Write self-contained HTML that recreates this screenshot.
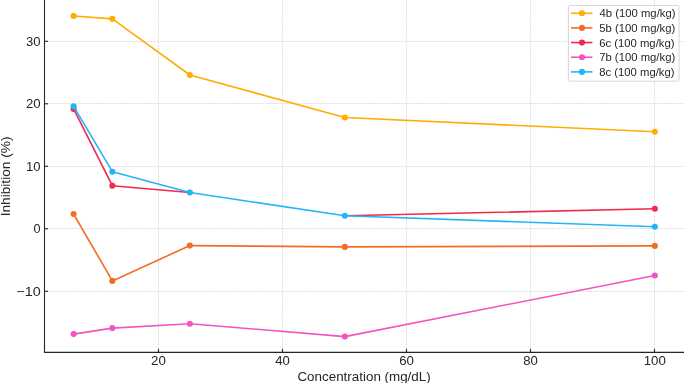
<!DOCTYPE html>
<html><head><meta charset="utf-8"><style>
html,body{margin:0;padding:0;background:#fff;width:685px;height:383px;overflow:hidden}
svg{display:block;will-change:transform}
text{font-family:"Liberation Sans",sans-serif;fill:#262626}
</style></head><body>
<svg width="685" height="383" viewBox="0 0 685 383">
<rect width="685" height="383" fill="#fff"/>
<g stroke="#e2e2e2" stroke-width="1.0" fill="none">
<line x1="44.5" y1="41.5" x2="684" y2="41.5" stroke-dasharray="2.114,0.906" stroke-dashoffset="2.988"/>
<line x1="44.5" y1="103.5" x2="684" y2="103.5" stroke-dasharray="2.114,0.906" stroke-dashoffset="2.988"/>
<line x1="44.5" y1="166.5" x2="684" y2="166.5" stroke-dasharray="2.114,0.906" stroke-dashoffset="2.988"/>
<line x1="44.5" y1="228.5" x2="684" y2="228.5" stroke-dasharray="2.114,0.906" stroke-dashoffset="2.988"/>
<line x1="44.5" y1="291.5" x2="684" y2="291.5" stroke-dasharray="2.114,0.906" stroke-dashoffset="2.988"/>
<line x1="158.5" y1="352.4" x2="158.5" y2="0" stroke-dasharray="2.134,0.915" stroke-dashoffset="2.765"/>
<line x1="282.5" y1="352.4" x2="282.5" y2="0" stroke-dasharray="2.134,0.915" stroke-dashoffset="2.765"/>
<line x1="406.5" y1="352.4" x2="406.5" y2="0" stroke-dasharray="2.134,0.915" stroke-dashoffset="2.765"/>
<line x1="530.5" y1="352.4" x2="530.5" y2="0" stroke-dasharray="2.134,0.915" stroke-dashoffset="2.765"/>
<line x1="654.5" y1="352.4" x2="654.5" y2="0" stroke-dasharray="2.134,0.915" stroke-dashoffset="2.765"/>
</g>
<polyline fill="none" stroke="#FFAD00" stroke-width="1.6" stroke-linejoin="round" stroke-linecap="round" points="73.6,16.0 112.35,18.85 189.85,75.0 344.85,117.5 654.85,131.75"/>
<circle cx="73.6" cy="16.0" r="3.05" fill="#FFAD00"/><circle cx="112.35" cy="18.85" r="3.05" fill="#FFAD00"/><circle cx="189.85" cy="75.0" r="3.05" fill="#FFAD00"/><circle cx="344.85" cy="117.5" r="3.05" fill="#FFAD00"/><circle cx="654.85" cy="131.75" r="3.05" fill="#FFAD00"/>
<polyline fill="none" stroke="#F26C23" stroke-width="1.6" stroke-linejoin="round" stroke-linecap="round" points="73.6,214.0 112.35,280.9 189.85,245.6 344.85,246.9 654.85,245.9"/>
<circle cx="73.6" cy="214.0" r="3.05" fill="#F26C23"/><circle cx="112.35" cy="280.9" r="3.05" fill="#F26C23"/><circle cx="189.85" cy="245.6" r="3.05" fill="#F26C23"/><circle cx="344.85" cy="246.9" r="3.05" fill="#F26C23"/><circle cx="654.85" cy="245.9" r="3.05" fill="#F26C23"/>
<polyline fill="none" stroke="#F02A50" stroke-width="1.6" stroke-linejoin="round" stroke-linecap="round" points="73.6,108.9 112.35,185.7 189.85,192.5"/>
<polyline fill="none" stroke="#F02A50" stroke-width="1.6" stroke-linejoin="round" stroke-linecap="round" points="344.85,215.8 654.85,208.8"/>
<circle cx="73.6" cy="108.9" r="3.05" fill="#F02A50"/><circle cx="112.35" cy="185.7" r="3.05" fill="#F02A50"/><circle cx="654.85" cy="208.8" r="3.05" fill="#F02A50"/>
<polyline fill="none" stroke="#F552C2" stroke-width="1.6" stroke-linejoin="round" stroke-linecap="round" points="73.6,334.1 112.35,328.1 189.85,323.75 344.85,336.6 654.85,275.5"/>
<circle cx="73.6" cy="334.1" r="3.05" fill="#F552C2"/><circle cx="112.35" cy="328.1" r="3.05" fill="#F552C2"/><circle cx="189.85" cy="323.75" r="3.05" fill="#F552C2"/><circle cx="344.85" cy="336.6" r="3.05" fill="#F552C2"/><circle cx="654.85" cy="275.5" r="3.05" fill="#F552C2"/>
<polyline fill="none" stroke="#22B5F8" stroke-width="1.6" stroke-linejoin="round" stroke-linecap="round" points="73.6,106.35 112.35,171.7 189.85,192.5 344.85,215.8 654.85,226.7"/>
<circle cx="73.6" cy="106.35" r="3.05" fill="#22B5F8"/><circle cx="112.35" cy="171.7" r="3.05" fill="#22B5F8"/><circle cx="189.85" cy="192.5" r="3.05" fill="#22B5F8"/><circle cx="344.85" cy="215.8" r="3.05" fill="#22B5F8"/><circle cx="654.85" cy="226.7" r="3.05" fill="#22B5F8"/>
<g stroke="#262626" stroke-width="1.1" fill="none">
<line x1="44.5" y1="0" x2="44.5" y2="352.95"/>
<line x1="43.95" y1="352.4" x2="684" y2="352.4"/>
<line x1="44.5" y1="41.3" x2="48" y2="41.3"/>
<line x1="44.5" y1="103.8" x2="48" y2="103.8"/>
<line x1="44.5" y1="166.3" x2="48" y2="166.3"/>
<line x1="44.5" y1="228.8" x2="48" y2="228.8"/>
<line x1="44.5" y1="291.3" x2="48" y2="291.3"/>
<line x1="158.5" y1="352.4" x2="158.5" y2="348.9"/>
<line x1="282.5" y1="352.4" x2="282.5" y2="348.9"/>
<line x1="406.5" y1="352.4" x2="406.5" y2="348.9"/>
<line x1="530.5" y1="352.4" x2="530.5" y2="348.9"/>
<line x1="654.5" y1="352.4" x2="654.5" y2="348.9"/>
</g>
<text x="26.13" y="45.77" font-size="12.6" textLength="14.50" lengthAdjust="spacingAndGlyphs">30</text>
<text x="25.92" y="108.27" font-size="12.6" textLength="14.72" lengthAdjust="spacingAndGlyphs">20</text>
<text x="26.06" y="170.77" font-size="12.6" textLength="14.57" lengthAdjust="spacingAndGlyphs">10</text>
<text x="33.60" y="233.27" font-size="12.6" textLength="7.01" lengthAdjust="spacingAndGlyphs">0</text>
<text x="16.32" y="295.77" font-size="12.6" textLength="24.38" lengthAdjust="spacingAndGlyphs">−10</text>
<text x="151.12" y="364.90" font-size="12.6" textLength="14.72" lengthAdjust="spacingAndGlyphs">20</text>
<text x="275.31" y="364.90" font-size="12.6" textLength="14.60" lengthAdjust="spacingAndGlyphs">40</text>
<text x="399.22" y="364.90" font-size="12.6" textLength="14.72" lengthAdjust="spacingAndGlyphs">60</text>
<text x="523.20" y="364.90" font-size="12.6" textLength="14.66" lengthAdjust="spacingAndGlyphs">80</text>
<text x="643.67" y="364.90" font-size="12.6" textLength="22.21" lengthAdjust="spacingAndGlyphs">100</text>
<text x="297.46" y="380.80" font-size="12.6" textLength="133.26" lengthAdjust="spacingAndGlyphs">Concentration (mg/dL)</text>
<g transform="translate(9.6,176.25) rotate(-90)"><text x="-40.12" y="0.00" font-size="12.6" textLength="79.85" lengthAdjust="spacingAndGlyphs">Inhibition (%)</text></g>
<rect x="568.4" y="5.4" width="110.65" height="75.8" rx="1.5" fill="#ffffff" fill-opacity="0.8" stroke="#d6d6d6" stroke-width="1"/>
<line x1="571" y1="13.26" x2="592.4" y2="13.26" stroke="#FFAD00" stroke-width="1.6"/><circle cx="582.0" cy="13.26" r="3.05" fill="#FFAD00"/>
<text x="599.49" y="17.26" font-size="10.3" textLength="76.01" lengthAdjust="spacingAndGlyphs">4b (100 mg/kg)</text>
<line x1="571" y1="27.92" x2="592.4" y2="27.92" stroke="#F26C23" stroke-width="1.6"/><circle cx="582.0" cy="27.92" r="3.05" fill="#F26C23"/>
<text x="599.32" y="31.92" font-size="10.3" textLength="75.92" lengthAdjust="spacingAndGlyphs">5b (100 mg/kg)</text>
<line x1="571" y1="42.58" x2="592.4" y2="42.58" stroke="#F02A50" stroke-width="1.6"/><circle cx="582.0" cy="42.58" r="3.05" fill="#F02A50"/>
<text x="599.21" y="46.58" font-size="10.3" textLength="75.25" lengthAdjust="spacingAndGlyphs">6c (100 mg/kg)</text>
<line x1="571" y1="57.24" x2="592.4" y2="57.24" stroke="#F552C2" stroke-width="1.6"/><circle cx="582.0" cy="57.24" r="3.05" fill="#F552C2"/>
<text x="599.16" y="61.24" font-size="10.3" textLength="76.04" lengthAdjust="spacingAndGlyphs">7b (100 mg/kg)</text>
<line x1="571" y1="71.9" x2="592.4" y2="71.9" stroke="#22B5F8" stroke-width="1.6"/><circle cx="582.0" cy="71.9" r="3.05" fill="#22B5F8"/>
<text x="599.27" y="75.90" font-size="10.3" textLength="75.25" lengthAdjust="spacingAndGlyphs">8c (100 mg/kg)</text>
</svg>
</body></html>
